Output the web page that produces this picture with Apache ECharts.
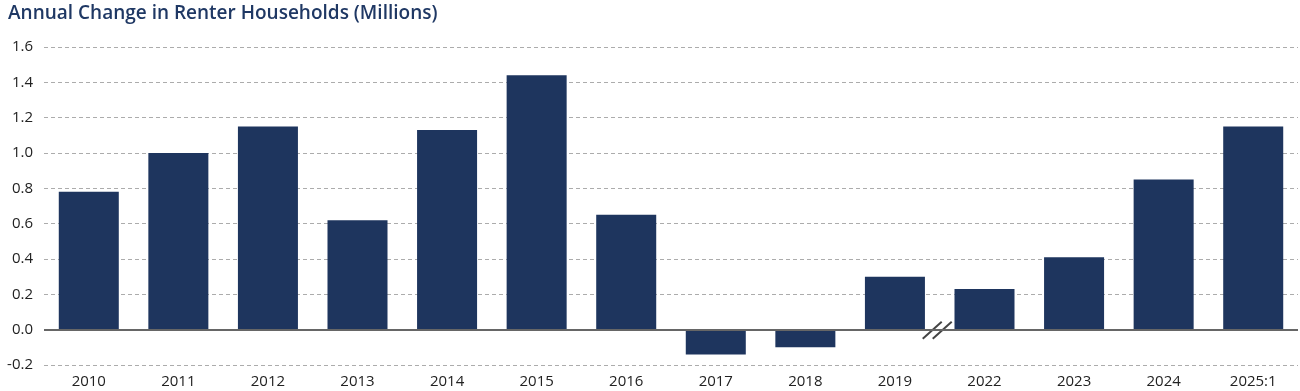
<!DOCTYPE html>
<html><head><meta charset="utf-8">
<script src="https://cdn.jsdelivr.net/npm/echarts@6/dist/echarts.min.js"></script>
<style>html,body{margin:0;padding:0;background:#fff}#c{width:1300px;height:391px}</style>
</head><body><div id="c"></div>
<script>
const titleText = 'Annual Change in Renter Households (Millions)';
const categories = ['2010','2011','2012','2013','2014','2015','2016','2017','2018','2019','2022','2023','2024','2025:1'];
const values = [0.78, 1.00, 1.15, 0.62, 1.13, 1.44, 0.65, -0.14, -0.10, 0.30, 0.23, 0.41, 0.85, 1.15];
const breakBetween = ['2019','2022'];

const chart = echarts.init(document.getElementById('c'), null, {renderer:'canvas'});
const font = '"Open Sans", Lato, sans-serif';
chart.setOption({
  animation:false,
  title:{text:titleText,left:3,top:-1,textStyle:{fontFamily:font,fontSize:19,fontWeight:600,color:'#1f3864'}},
  grid:{left:44,right:2,top:47,bottom:26,containLabel:false},
  xAxis:{type:'category',data:categories,axisLine:{show:false},axisTick:{show:false},
    axisLabel:{fontFamily:font,fontSize:15,color:'#222',margin:9}},
  yAxis:{type:'value',min:-0.2,max:1.6,interval:0.2,
    axisLabel:{fontFamily:font,fontSize:15,color:'#222',margin:11,formatter:v=>v.toFixed(1)},
    splitLine:{lineStyle:{type:[4,3],color:'#acacac',width:1}},axisLine:{show:false},axisTick:{show:false}},
  series:[{type:'bar',data:values,barWidth:'67%',itemStyle:{color:'#1e355e'},
    markLine:{silent:true,symbol:'none',label:{show:false},lineStyle:{type:'solid',color:'#666',width:2},data:[{yAxis:0}]}}]
});
const p1 = chart.convertToPixel({seriesIndex:0},[breakBetween[0],0]);
const p2 = chart.convertToPixel({seriesIndex:0},[breakBetween[1],0]);
const cx = (p1[0]+p2[0])/2 - 3, cy = p1[1];
chart.setOption({graphic:[
  {type:'line',shape:{x1:cx-14,y1:cy+9,x2:cx+5,y2:cy-8},style:{stroke:'#444',lineWidth:2}},
  {type:'line',shape:{x1:cx-4,y1:cy+9,x2:cx+15,y2:cy-8},style:{stroke:'#444',lineWidth:2}}
]});
</script></body></html>
